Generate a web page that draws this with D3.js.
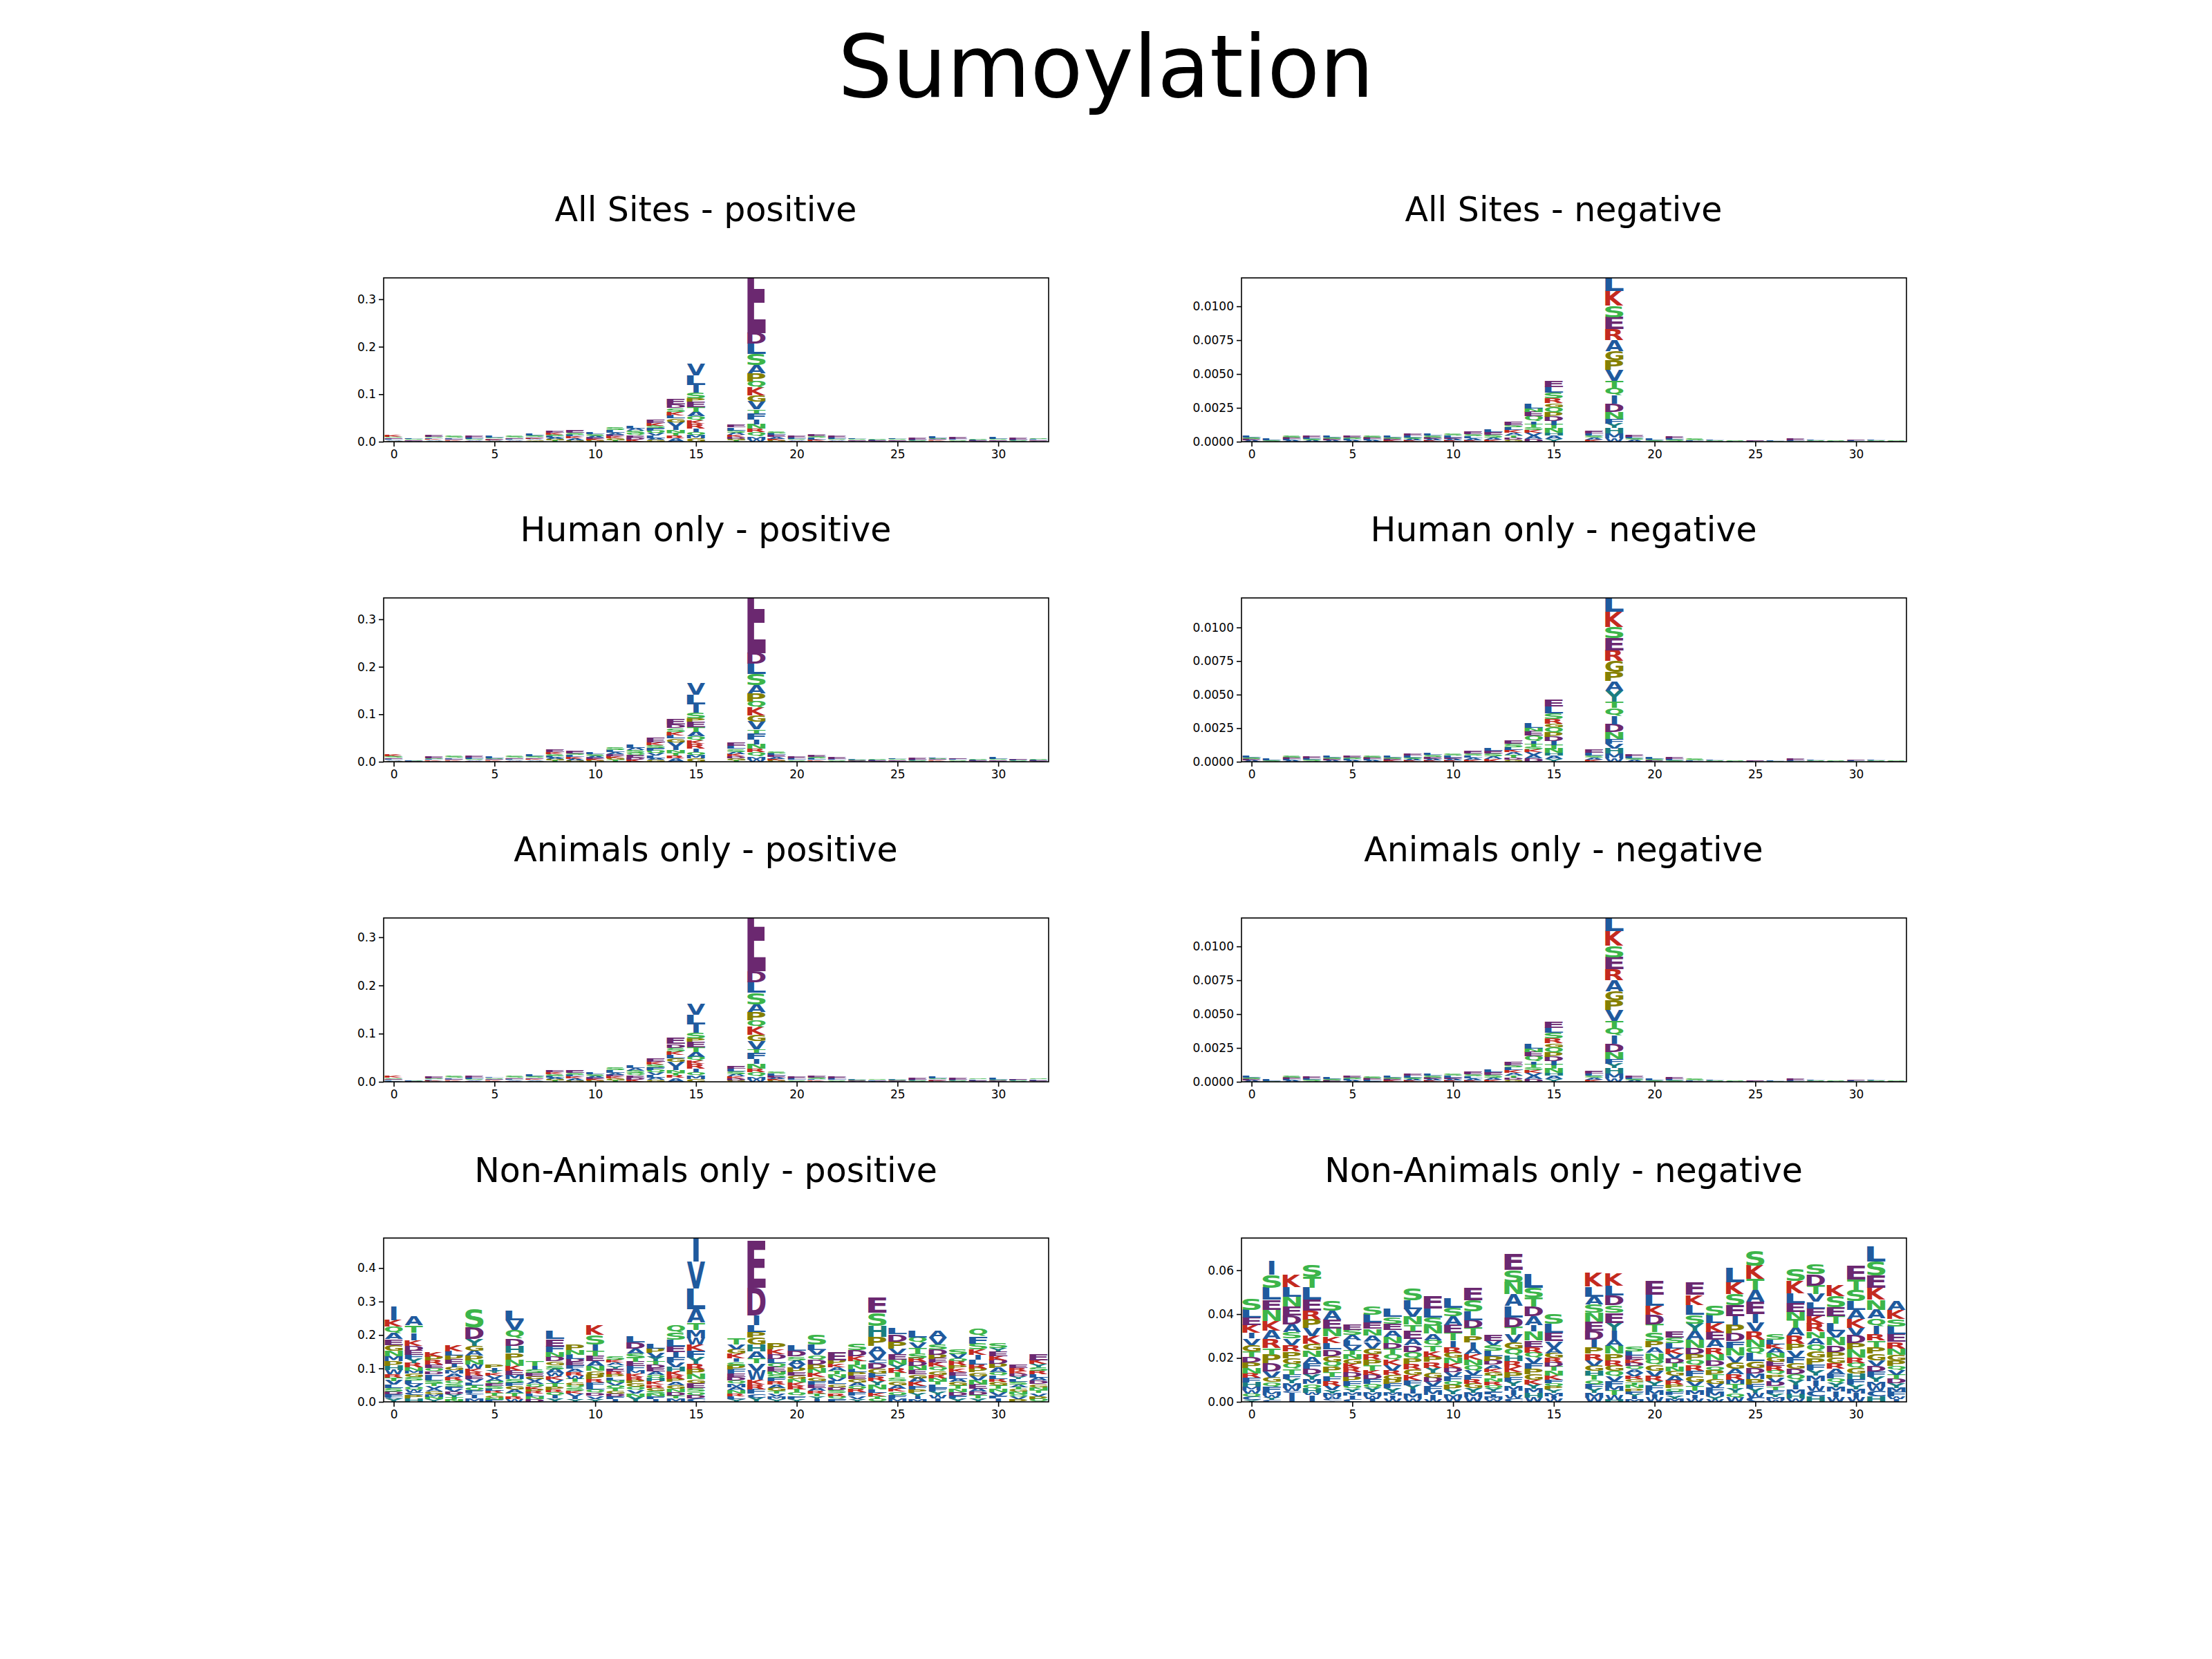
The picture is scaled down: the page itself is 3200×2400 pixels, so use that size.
<!DOCTYPE html>
<html><head><meta charset="utf-8">
<script src="https://cdn.jsdelivr.net/npm/d3@7"></script>
<style>body{margin:0;background:#fff}</style>
</head><body>
<svg id="c" width="3200" height="2400"></svg>
<script>
// each column: letters top-to-bottom with heights in panel units; "" = empty position (16)
var allPos = [
 "K 3 S 2 E 2 L 2 A 2 G 2","L 2 S 2 E 2 A 2","E 3 S 2 L 2 K 2 A 2 G 2","S 3 L 2 E 2 K 2 A 2","E 3 L 3 S 2 A 2 K 2","L 3 S 2 E 2 K 2 A 2 G 1","S 3 E 2 L 2 A 2 K 2","L 3 S 3 E 2 K 2 A 2 G 2 T 2",
 "E 4 K 4 S 3 L 3 A 3 G 3 T 3","E 5 S 4 L 4 K 4 A 4 G 3","L 4 S 4 A 3 E 3 K 3 G 3","S 5 L 5 A 4 E 4 K 4 G 4 T 3","L 6 A 5 S 5 Q 5 E 4 D 4 K 5","E 8 K 6 S 5 F 5 Q 6 V 5 L 5 A 4 G 4",
 "E 12 D 8 S 8 K 7 L 7 G 8 V 9 I 7 N 6 T 6 R 5 A 8","V 24 L 20 I 17 S 12 P 7 E 11 T 10 A 10 Q 8 K 7 R 10 I 7 Q 7 M 7 G 7","",
 "E 6 L 6 S 5 A 5 K 4 D 4 G 3 T 3","E 150 D 22 L 22 S 24 A 17 P 17 Q 13 K 16 G 14 V 16 T 8 F 13 I 10 N 10 R 7 Q 9 M 6 W 5",
 "S 4 L 4 E 4 A 4 K 3 G 3","E 3 L 3 S 2 A 2 K 2","E 3 S 3 L 3 K 3 A 2","E 3 L 3 S 2 A 2 K 2","L 2 S 2 E 2 A 2","S 2 L 2 E 2 A 1","L 2 S 2 E 2 A 2","E 3 L 2 S 2 A 1",
 "L 3 S 2 E 2 K 2 A 2","E 3 L 2 S 2 A 2","S 2 L 2 E 2 A 1","L 3 S 2 E 2 A 2","E 3 L 2 S 2 A 1","S 2 L 2 E 2 A 2"];
var allNeg = [
 "L 1 S 1 E 1 A 1","L 1 S 1","S 1 E 1 L 1 A 1","E 1 L 1 S 1 A 1","L 1 S 1 E 1 A 1","E 1 S 1 L 1 A 1","S 1 E 1 L 1 A 1","L 1 S 1 E 1 K 1",
 "E 1.5 L 1.5 S 1 A 1 K 1","L 1.5 S 1.5 E 1 A 1 K 1","S 1.5 L 1.5 E 1 A 1 K 1","E 2 S 1.5 L 1.5 A 1.5 K 1","L 2 E 2 S 2 A 1.5 K 1.5","E 2.5 S 2 L 2 K 2 A 2 T 1.5 D 1.5 G 1.5",
 "L 3 N 2.5 E 3 Q 4 I 2 T 2.5 S 2 K 2 V 2 A 2.5 D 2","E 4.5 L 4.5 S 4 R 3.5 G 3 Q 4 P 3 D 3 I 3 T 3 N 3 H 2 A 2.5 Y 2","",
 "E 2 L 1.5 S 1.5 A 1.5 K 1.5","L 11 K 11 S 8.5 E 9 R 8 A 8 G 7 P 7 V 8 T 5 Q 6 I 6 D 6 N 5 F 3.5 Y 3.5 H 4 M 3.5 W 2.5",
 "E 1.5 L 1 S 1 A 1.5","L 1 S 1","E 1 L 1 S 1 A 0.5","S 1 L 0.5 E 0.5","L 0.5 S 0.5 E 0.5","S 0.5 L 0.5","E 0.5 L 0.5","L 0.5 S 0.5",
 "E 1 L 0.5 S 0.5","L 0.5 S 0.5 E 0.5","S 0.5 L 0.5","E 0.5 L 0.5 S 0.5","L 0.5 S 0.5 E 0.5","S 0.5 E 0.5"];
var humPos = [
 "K 3 S 3 E 2 L 2 A 2 G 2","L 2 S 1 E 1","E 3 S 2 L 2 K 2 A 2","S 3 L 2 E 2 K 2 A 2","E 3 L 3 S 2 A 2 K 2","L 3 S 2 E 2 K 2 A 2","S 3 E 2 L 2 A 2 K 2","L 3 S 3 E 2 K 2 A 2 G 2",
 "E 5 K 4 S 4 L 3 A 3 G 3 T 3","E 5 S 4 L 4 K 4 A 3 G 3","L 4 S 4 A 3 E 3 K 3 G 3","S 5 L 5 A 4 E 4 K 4 G 4 T 4","L 7 A 5 S 5 Q 5 E 5 D 4 K 5","E 9 K 6 S 6 F 5 Q 6 V 5 L 5 A 4 G 4",
 "E 12 D 8 S 8 K 7 L 7 G 8 V 9 I 7 N 6 T 6 R 5 A 8","V 24 L 20 I 18 S 12 P 7 E 11 T 10 A 10 Q 8 K 7 R 10 I 7 Q 7 M 7 G 7","",
 "E 7 L 6 S 6 A 5 K 5 D 4 G 4 T 3","E 150 D 22 L 22 S 24 A 17 P 17 Q 13 K 16 G 14 V 16 T 8 F 13 I 10 N 10 R 7 Q 9 M 6 W 5",
 "S 4 L 4 E 4 A 4 K 3 G 3","E 3 L 3 S 2 A 2","E 3 S 3 L 3 K 2 A 2","E 3 L 2 S 2 A 2","L 2 S 2 E 2 A 1","S 2 L 2 E 2 A 1","L 2 S 2 E 2 A 2","E 3 L 2 S 2 A 1",
 "L 2 S 2 E 2 K 2 A 2","E 2 L 2 S 2 A 2","S 2 L 2 E 2 A 1","L 3 S 2 E 2 A 2","E 2 L 2 S 2 A 1","S 2 L 2 E 2 A 1"];
var humNeg = [
 "L 1.5 S 1 E 1 A 1","L 1 S 1","S 1 E 1 L 1 A 1","E 1 L 1 S 1 A 0.5","L 1 S 1 E 1 A 1","E 1 S 1 L 1 A 1","S 1 E 1 L 1 A 1","L 1 S 1 E 1 K 1",
 "E 1.5 L 1.5 S 1 A 1 K 1","L 1.5 S 1.5 E 1.5 A 1 K 1","S 1.5 L 1.5 E 1 A 1 K 1","E 2 S 1.5 L 1.5 A 1.5 K 1.5","L 2 E 2 S 2 A 2 K 2","E 2.5 S 2.5 L 2 K 2 A 2 T 2 D 1.5 G 1.5",
 "L 3 N 2.5 E 3 Q 4 I 2 T 2.5 S 2 K 2 V 2 A 2.5 D 2.5","E 5 L 5 S 4 R 3.5 G 3 Q 4 P 3 D 3 I 3 T 3 N 3 H 2 A 2.5 Y 2","",
 "E 2.5 L 2 S 1.5 A 1.5 K 1.5","L 12 K 11 S 8.5 E 9 R 8 G 8 P 7 A 7 Y 8 T 5 Q 6 I 6 D 6 N 5 F 3.5 V 3.5 H 4 M 3.5 W 2.5",
 "E 1.5 L 1.5 S 1 A 1.5","L 1.5 S 1 E 1","E 1 L 1 S 1","S 1 L 0.5 E 0.5","L 0.5 S 0.5 E 0.5","S 0.5 L 0.5","E 0.5 L 0.5","L 0.5 S 0.5",
 "E 1 L 0.5 S 0.5","L 0.5 S 0.5 E 0.5","S 0.5 L 0.5","E 0.5 L 0.5 S 0.5","L 0.5 S 0.5 E 0.5","S 0.5 E 0.5"];
var aniPos = [
 "K 3 S 2 E 2 L 2 A 2","L 2 S 1 E 1","E 3 S 2 L 2 K 2 A 1","S 3 L 2 E 2 K 2 A 2","E 3 L 3 S 2 A 2 K 2","L 2 S 2 E 2 K 2 A 2","S 3 E 2 L 2 A 2 K 2","L 3 S 3 E 2 K 2 A 2 G 2",
 "E 4 K 4 S 4 L 3 A 3 G 3 T 3","E 5 S 4 L 4 K 4 A 4 G 3","L 4 S 4 A 3 E 3 K 3 G 3","S 5 L 5 A 4 E 4 K 4 G 4 T 3","L 6 A 5 S 5 Q 5 E 4 D 4 K 5","E 8 K 6 S 6 F 5 Q 6 V 5 L 5 A 5 G 4",
 "E 12 D 8 S 8 K 7 L 7 G 8 V 9 I 7 N 6 T 6 R 5 A 8","V 22 L 20 I 17 S 12 P 7 E 11 T 10 A 10 Q 8 K 7 R 10 I 7 Q 7 M 7 G 6","",
 "E 6 L 6 S 5 A 5 K 4 D 4 G 3","E 150 D 22 L 22 S 24 A 17 P 17 Q 13 K 16 G 14 V 16 T 8 F 13 I 10 N 10 R 7 Q 9 M 6 W 5",
 "S 4 L 4 E 4 A 3 K 3 G 3","E 3 L 3 S 2 A 2","E 3 S 3 L 2 K 2 A 2","E 3 L 3 S 2 A 2","L 2 S 2 E 2 A 1","S 2 L 2 E 1 A 1","L 2 S 2 E 2 A 1","E 3 L 2 S 2 A 1",
 "L 3 S 2 E 2 K 2 A 1","E 3 L 2 S 2 A 1","S 2 L 2 E 2 A 1","L 3 S 2 E 2 A 1","E 2 L 2 S 2 A 1","S 2 L 2 E 2 A 1"];
var aniNeg = [
 "L 1 S 1 E 1 A 1","L 1 S 0.5","S 1 E 1 L 1 A 1","E 1 L 1 S 1 A 0.5","L 1 S 1 E 1","E 1 S 1 L 1 A 1","S 1 E 1 L 1 A 0.5","L 1 S 1 E 1 K 1",
 "E 1.5 L 1.5 S 1 A 1 K 1","L 1.5 S 1.5 E 1 A 1 K 1","S 1.5 L 1.5 E 1 A 1 K 1","E 2 S 1.5 L 1.5 A 1.5 K 1","L 2 E 2 S 2 A 1.5 K 1.5","E 2.5 S 2 L 2 K 2 A 2 T 1.5 D 1.5 G 1.5",
 "L 3 N 2.5 E 3 Q 4 I 2 T 2.5 S 2 K 2 V 2 A 2.5 D 2","E 4.5 L 4 S 4 R 3.5 G 3 Q 4 P 3 D 3 I 3 T 3 N 3 H 2 A 2.5 Y 2","",
 "E 2 L 1.5 S 1.5 A 1.5 K 1.5","L 11 K 11 S 8.5 E 9 R 8 A 8 G 7 P 7 V 8 T 5 Q 6 I 6 D 6 N 5 F 3.5 Y 3.5 H 4 M 3.5 W 2.5",
 "E 1.5 L 1 S 1 A 1","L 1 S 1","E 1 L 1 S 1","S 1 L 0.5 E 0.5","L 0.5 S 0.5 E 0.5","S 0.5 L 0.5","E 0.5 L 0.5","L 0.5 S 0.5",
 "E 1 L 0.5 S 0.5","L 0.5 S 0.5 E 0.5","S 0.5 L 0.5","E 0.5 L 0.5 S 0.5","L 0.5 S 0.5 E 0.5","S 0.5 E 0.5"];
var nonPos = [
 "I 40 K 20 Q 20 A 18 E 17 G 17 N 17 M 15 P 14 H 12 W 12 R 10 T 10 V 12 L 10 S 10 D 8 F 8 C 5 Y 10",
 "A 28 T 22 I 22 K 17 D 14 E 14 F 12 Y 12 R 12 N 10 M 10 G 10 S 10 L 10 V 10 Q 8 W 8 C 8 P 10 H 10",
 "K 12 P 12 R 12 E 10 Q 10 D 9 F 9 L 9 S 9 T 8 V 8 A 8 G 8 M 8 N 7 Y 8",
 "K 18 L 12 P 12 E 12 I 10 G 10 M 10 A 10 R 10 Q 9 S 9 F 8 V 8 D 8 Y 8 T 7 N 7",
 "S 55 D 35 Y 20 G 15 A 15 P 14 N 12 W 13 K 11 R 10 E 10 V 10 L 8 T 8 Q 8 F 8 C 6 I 10 M 10",
 "P 10 I 8 Y 8 K 8 V 8 A 8 Q 8 E 7 S 7 L 7 R 7 T 7 G 6 N 6 F 7",
 "L 28 V 28 Q 25 D 22 H 22 P 20 N 18 K 15 E 12 M 12 S 12 F 10 G 10 A 10 T 10 R 9 W 8",
 "T 12 I 10 S 10 E 10 G 8 V 8 A 8 Q 8 K 7 P 7 R 7 L 8 N 8 D 8",
 "L 23 E 22 F 18 N 14 D 12 G 12 S 12 A 12 W 10 K 10 V 10 T 10 P 10 R 8 Q 8 I 10 Y 10",
 "P 16 N 14 L 12 D 10 E 10 F 10 A 10 R 10 W 10 T 10 G 9 Q 9 S 9 K 8 V 8 I 8 Y 8",
 "K 30 S 28 I 20 T 15 E 16 A 14 N 14 G 12 P 12 R 11 F 11 L 10 Q 10 D 9 V 9 Y 9",
 "S 10 K 9 A 9 Y 9 E 9 R 9 P 8 L 9 N 8 V 8 Q 8 T 8 G 8 D 8 F 9 I 8",
 "L 18 D 18 A 14 S 14 T 12 E 12 F 12 M 10 K 10 R 10 P 10 G 10 Q 10 V 10 N 10 Y 15",
 "L 12 P 12 V 14 Y 12 T 10 D 10 E 10 A 10 Q 10 H 10 K 10 R 9 G 9 S 9 N 8 F 8 I 8",
 "Q 22 S 22 L 20 E 18 I 16 F 15 V 14 H 12 K 12 R 10 P 10 A 10 G 10 N 10 D 10 T 9 M 10",
 "I 100 V 80 L 62 A 40 T 22 M 25 W 20 K 18 F 20 Y 20 R 15 P 15 N 15 G 12 E 14 S 12 Q 10 D 10 C 10",
 "",
 "T 18 V 14 G 14 K 14 I 10 S 12 P 12 F 12 E 10 D 10 Q 10 M 10 A 10 N 10 R 8 L 8 Y 8",
 "E 140 D 83 I 28 L 21 P 17 G 21 H 21 A 21 T 14 V 21 W 28 K 14 R 14 F 14 C 12 Y 12",
 "P 18 K 14 D 14 L 12 Q 12 E 12 N 10 S 10 F 10 R 10 A 10 G 10 T 8 V 8 M 8 Y 8",
 "L 16 D 16 S 12 A 12 V 12 P 12 E 10 G 10 N 10 K 10 R 10 T 10 Q 10 F 9 Y 9",
 "S 30 L 16 V 16 Q 14 D 14 P 14 N 12 K 12 G 12 F 10 E 10 A 10 R 8 T 8 Y 8 I 8",
 "E 25 P 12 K 10 A 10 T 10 N 10 V 10 L 10 G 9 D 9 S 9 R 9 Q 9 F 8",
 "S 20 D 18 K 14 T 12 N 12 L 10 P 10 E 10 G 10 A 10 Q 10 R 10 F 10 V 9 Y 9",
 "E 45 S 40 H 32 P 28 A 20 V 20 C 12 D 15 G 15 F 12 R 12 Y 12 N 12 L 10 K 10 T 9 Q 8",
 "L 18 D 22 P 22 V 16 E 16 N 14 Y 14 R 12 T 12 S 12 G 12 A 10 K 10 Q 10 F 10 M 10",
 "L 20 Q 16 V 16 T 16 S 14 R 12 D 12 N 12 E 12 G 12 A 12 K 12 F 10 P 10 Y 10 I 9 M 8",
 "A 22 V 20 S 14 D 16 P 12 E 12 K 12 Q 12 G 12 R 10 N 10 T 10 L 10 F 10 Y 10 W 11 I 10",
 "S 14 V 12 Q 10 R 12 P 10 K 10 E 10 L 10 A 10 G 10 T 10 N 10 D 10 F 9 Y 10",
 "Q 24 F 22 S 18 K 16 I 14 L 14 R 12 P 12 G 12 V 12 N 12 E 12 A 10 D 10 T 10 Y 10",
 "S 14 Y 10 E 14 K 12 D 12 P 12 A 12 Q 10 L 10 R 10 G 10 T 10 N 10 V 10 F 9 I 10",
 "E 10 R 10 K 8 D 8 Y 8 L 8 S 8 A 8 T 7 G 7 N 7 Q 7 V 8 P 8",
 "E 18 K 12 Y 10 S 10 R 10 L 10 A 10 D 10 G 9 N 9 T 9 V 9 P 9 Q 8"];
var nonNeg = [
 "S 50 L 35 E 35 K 35 I 25 V 30 G 30 T 25 D 25 P 25 N 25 R 20 F 20 H 20 M 15 W 15 Q 15 C 15 Y 9",
 "I 60 S 60 L 55 E 45 N 50 K 45 A 40 R 40 T 30 P 40 D 35 V 30 G 20 Q 20 F 25 M 15 W 10 Y 10 C 10",
 "K 55 L 45 N 45 E 40 D 40 A 35 S 30 V 30 R 30 P 30 G 25 Q 25 T 25 F 20 Y 20 M 20 W 14 C 10 I 40",
 "S 55 T 50 L 55 E 50 R 40 P 40 V 35 K 35 G 30 N 30 A 30 F 25 D 25 Y 25 M 20 Q 20 H 20 W 11 I 30",
 "S 45 A 40 E 40 N 35 K 30 L 30 D 30 G 25 Q 25 P 25 T 20 F 20 R 20 V 20 Y 15 M 15 W 10 C 9 I 5",
 "E 25 S 25 A 25 L 25 V 20 T 20 N 20 G 20 K 20 R 20 D 20 P 20 F 20 Q 15 Y 15 M 15 I 15 C 14",
 "S 40 L 35 E 30 N 30 A 30 V 30 G 25 R 25 P 25 T 25 K 20 D 20 F 20 Q 20 Y 20 M 15 W 14 I 14",
 "L 35 S 30 E 30 A 30 N 30 D 25 T 25 Q 25 K 25 V 25 R 20 G 20 P 20 F 20 Y 20 M 15 I 12 W 15",
 "S 55 L 40 V 35 N 35 T 30 E 35 A 30 D 30 Q 30 P 25 R 25 G 25 K 25 F 20 Y 20 I 20 M 20 W 17",
 "E 55 L 40 S 40 N 35 A 30 Q 25 T 25 K 25 P 25 R 25 Y 25 G 20 D 20 V 20 F 20 M 20 I 20 W 11",
 "L 45 S 40 A 40 E 35 T 35 I 30 R 25 G 25 N 25 K 20 D 20 V 20 F 20 Q 20 P 20 Y 20 M 15 W 20",
 "E 55 S 50 L 40 D 35 T 35 P 30 I 30 A 25 K 25 N 25 Q 25 V 20 F 20 R 20 G 20 Y 20 M 20 W 22",
 "E 30 V 20 S 25 L 25 P 20 D 18 A 18 K 15 G 15 T 15 N 15 R 15 Q 15 Y 15 F 12 I 12 M 10 W 8 C 4",
 "E 75 S 55 N 55 A 55 L 50 D 45 T 35 V 35 G 30 Q 30 H 25 R 25 K 25 P 25 F 20 Y 20 M 20 I 20 W 15 C 16",
 "L 60 S 45 T 40 D 45 A 40 I 30 N 40 E 30 R 25 Q 25 V 25 F 25 P 25 G 25 K 20 Y 20 M 20 H 20 W 20",
 "S 45 L 40 E 40 V 30 A 25 G 20 R 20 D 20 T 20 N 20 K 20 F 15 Q 15 P 15 Y 15 M 15 I 11 W 15",
 "",
 "K 60 L 45 A 35 S 40 N 40 E 40 D 40 I 35 P 30 R 30 V 25 G 25 H 20 T 20 Q 20 F 20 Y 20 M 20 W 20",
 "K 55 L 45 D 45 S 35 E 45 Y 35 I 40 A 30 N 35 P 30 R 25 G 25 Q 25 V 20 F 25 M 20 T 20 W 20 H 10",
 "S 20 L 18 E 18 K 15 D 15 Q 15 A 15 V 15 R 14 G 14 T 14 N 14 P 14 F 12 Y 12 I 12 M 12",
 "E 60 L 50 K 40 D 45 T 35 S 40 P 30 A 25 N 30 Q 25 G 25 V 25 R 25 Y 20 F 20 M 20 I 15 W 18",
 "E 30 S 25 L 25 K 25 V 20 D 20 T 20 N 20 G 20 A 20 R 18 P 18 Q 16 F 16 Y 16 M 14",
 "E 55 K 45 L 45 S 40 Y 35 A 40 N 35 D 30 P 25 Q 25 R 25 F 25 G 25 V 20 T 20 M 20 I 16 W 16",
 "S 45 L 35 K 40 E 35 A 35 R 30 N 30 D 25 Q 20 P 20 T 20 G 20 V 20 F 20 M 18 Y 15 W 10",
 "L 65 K 55 S 50 E 50 I 40 P 40 D 35 F 30 N 35 V 30 G 30 A 25 R 25 M 20 T 20 Y 20 Q 21 W 20",
 "S 70 K 60 T 50 A 55 E 55 I 40 V 40 R 35 N 35 Q 30 L 35 G 30 D 25 M 25 P 25 F 20 Y 20 W 20 C 20",
 "S 25 L 20 K 20 A 20 N 20 G 20 E 20 R 20 Q 18 P 18 V 18 D 18 T 18 F 16 Y 16 M 12 W 9",
 "S 55 K 55 L 45 E 40 N 35 T 40 A 35 R 35 P 30 V 30 F 30 G 25 D 25 Q 25 Y 25 I 20 M 20 H 20 W 16",
 "S 45 D 50 T 40 V 35 L 30 E 35 K 35 R 35 N 30 A 30 Q 30 G 30 P 30 F 25 Y 25 M 25 I 25 W 21 C 25 H 25",
 "K 50 S 50 E 40 T 35 L 35 V 30 N 35 D 30 P 25 G 25 R 25 A 25 F 20 Q 20 Y 20 M 20 I 25 W 22",
 "E 60 T 50 S 50 L 40 A 40 K 40 V 35 D 35 P 30 N 35 R 25 Q 25 G 25 H 25 F 25 Y 20 M 20 I 20 W 18",
 "L 70 S 65 E 55 K 55 N 45 A 40 Q 35 I 35 R 30 T 30 P 30 G 30 V 25 D 25 F 25 Y 25 M 20 W 20 C 25 H 25",
 "A 40 K 40 S 35 L 35 E 35 R 30 N 30 G 25 P 25 Q 20 V 20 T 20 D 20 Y 20 M 20 F 20 W 12 I 12"];

var posTicks = [0, 0.1, 0.2, 0.3];
var negTicks = [0, 0.0025, 0.005, 0.0075, 0.01];
var nonPosTicks = [0, 0.1, 0.2, 0.3, 0.4];
var nonNegTicks = [0, 0.02, 0.04, 0.06];
var xTicks = [0, 5, 10, 15, 20, 25, 30];

var panels = [
 {title:"All Sites - positive", cols:allPos, unit:0.001, ymax:0.345, ticks:posTicks, fmt:".1f"},
 {title:"All Sites - negative", cols:allNeg, unit:0.0001, ymax:0.0121, ticks:negTicks, fmt:".4f"},
 {title:"Human only - positive", cols:humPos, unit:0.001, ymax:0.345, ticks:posTicks, fmt:".1f"},
 {title:"Human only - negative", cols:humNeg, unit:0.0001, ymax:0.0122, ticks:negTicks, fmt:".4f"},
 {title:"Animals only - positive", cols:aniPos, unit:0.001, ymax:0.34, ticks:posTicks, fmt:".1f"},
 {title:"Animals only - negative", cols:aniNeg, unit:0.0001, ymax:0.0121, ticks:negTicks, fmt:".4f"},
 {title:"Non-Animals only - positive", cols:nonPos, unit:0.001, ymax:0.49, ticks:nonPosTicks, fmt:".1f"},
 {title:"Non-Animals only - negative", cols:nonNeg, unit:0.0001, ymax:0.0747, ticks:nonNegTicks, fmt:".2f"}
];

var colorOf = {};
"DE".split("").forEach(function(c){ colorOf[c] = "#6b2870"; });
"AVLIFWMC".split("").forEach(function(c){ colorOf[c] = "#1f5a9e"; });
"STNQ".split("").forEach(function(c){ colorOf[c] = "#3cb54a"; });
"KR".split("").forEach(function(c){ colorOf[c] = "#c42a1f"; });
"GP".split("").forEach(function(c){ colorOf[c] = "#858000"; });
"HY".split("").forEach(function(c){ colorOf[c] = "#1a7e80"; });

var FONT = "DejaVu Sans";
var ctx = document.createElement("canvas").getContext("2d");
ctx.font = "bold 100px '" + FONT + "'";
var metrics = {};
function glyph(c){
	if (!metrics[c]) {
		var m = ctx.measureText(c);
		metrics[c] = {l:m.actualBoundingBoxLeft, r:m.actualBoundingBoxRight, a:m.actualBoundingBoxAscent, d:m.actualBoundingBoxDescent};
	}
	return metrics[c];
}

var svg = d3.select("#c");
svg.append("text").attr("x", 1600).attr("y", 140).attr("text-anchor", "middle")
	.style("font-family", FONT).style("font-size", "124px").text("Sumoylation");

var colX = [555, 1796], plotW = 962;
var rowY = [402, 865, 1328, 1791], plotH = 237;
var titleY = [320, 783, 1246, 1710];

panels.forEach(function(p, i){
	var r = Math.floor(i/2), c = i % 2;
	var g = svg.append("g").attr("transform", "translate(" + colX[c] + "," + rowY[r] + ")");
	svg.append("text").attr("x", colX[c] + plotW/2 - 15).attr("y", titleY[r]).attr("text-anchor", "middle")
		.style("font-family", FONT).style("font-size", "49px").text(p.title);

	var x = d3.scaleLinear().domain([-0.5, 32.5]).range([0, plotW]);
	var y = d3.scaleLinear().domain([0, p.ymax]).range([plotH, 0]);

	g.append("clipPath").attr("id", "clip" + i).append("rect").attr("width", plotW).attr("height", plotH);
	var marks = g.append("g").attr("clip-path", "url(#clip" + i + ")");

	p.cols.forEach(function(str, pos){
		if (!str) return;
		var t = str.split(" ");
		var items = [];
		for (var k = 0; k < t.length; k += 2) items.push({ch:t[k], v:+t[k+1]*p.unit});
		items.reverse();
		var base = 0;
		items.forEach(function(it){
			var m = glyph(it.ch);
			// the I glyph keeps a narrow bar, as in the reference
			var half = it.ch == "I" ? 0.13 : 0.45;
			var x0 = x(pos - half), w = x(pos + half) - x0;
			var yTop = y(base + it.v), h = y(base) - yTop;
			base += it.v;
			if (h <= 0) return;
			var sx = w/(m.l + m.r), sy = h/(m.a + m.d);
			marks.append("text")
				.attr("transform", "translate(" + (x0 + m.l*sx) + "," + (yTop + m.a*sy) + ") scale(" + sx + "," + sy + ")")
				.style("font-family", FONT).style("font-weight", "bold").style("font-size", "100px")
				.attr("fill", colorOf[it.ch]).text(it.ch);
		});
	});

	var ya = g.append("g").call(d3.axisLeft(y).tickValues(p.ticks).tickFormat(d3.format(p.fmt)).tickSize(7).tickPadding(4));
	var xa = g.append("g").attr("transform", "translate(0," + plotH + ")")
		.call(d3.axisBottom(x).tickValues(xTicks).tickFormat(d3.format("d")).tickSize(7).tickPadding(5));
	[ya, xa].forEach(function(a){
		a.select(".domain").remove();
		a.selectAll("text").style("font-family", FONT).style("font-size", "17px").attr("fill", "#000");
		a.selectAll("line").attr("stroke", "#000").attr("stroke-width", 1.6);
	});
	g.append("rect").attr("width", plotW).attr("height", plotH).attr("fill", "none").attr("stroke", "#000").attr("stroke-width", 1.6);
});
</script>
</body></html>
